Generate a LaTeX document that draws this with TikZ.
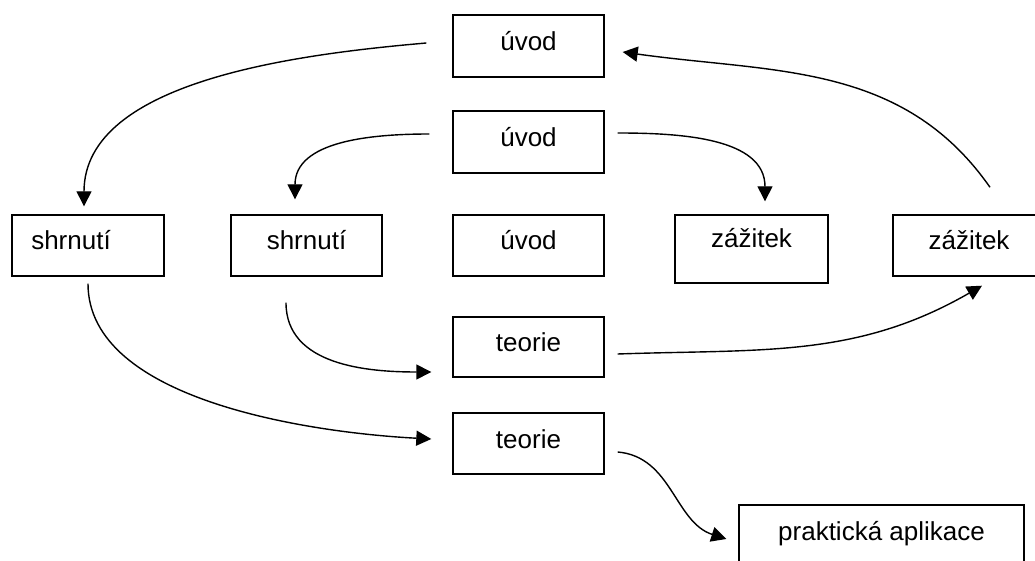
\documentclass[tikz,border=0pt]{standalone}
\usepackage{fontspec}
\setmainfont{Liberation Sans}
\usetikzlibrary{arrows.meta}

\begin{document}
\begin{tikzpicture}[x=1pt,y=1pt,font=\fontsize{26}{30}\selectfont,
  box/.style={draw,line width=1.4pt,minimum width=151pt,minimum height=61pt,text height=19pt,text depth=10pt,inner sep=0pt},
  ar/.style={-{Triangle[length=15pt,width=15pt]},line width=1.4pt}]
  \useasboundingbox (0,0) rectangle (1035,560);
  \clip (0,0) rectangle (1035,560);
  % boxes
  \node[box,minimum height=62pt](uv1) at (528.5,514){úvod};
  \node[box,minimum height=62pt](uv2) at (528.5,418){úvod};
  \node[box,minimum width=152pt](sh1) at (88,314.5){shrnutí\hspace*{34pt}};
  \node[box](sh2) at (306.5,314.5){shrnutí};
  \node[box](uv3) at (528.5,314.5){úvod};
  \node[box,minimum width=153pt,minimum height=68pt,text depth=21pt](za1) at (751.5,311){zážitek};
  \node[box,minimum width=152pt](za2) at (969,314.5){zážitek};
  \node[box,minimum height=60pt](te1) at (528.5,213){teorie};
  \node[box](te2) at (528.5,116.5){teorie};
  \node[box,minimum width=285pt](pa) at (881.5,24.5){praktická aplikace};
  % arrows
  \draw[ar]([xshift=-26pt,yshift=3pt]uv1.west) to[out=185,in=90,looseness=.85] ([xshift=-4pt,yshift=8pt]sh1.north);
  \draw[ar]([xshift=-23pt,yshift=8pt]uv2.west) to[out=180,in=90] ([xshift=-11.5pt,yshift=15pt]sh2.north);
  \draw[ar]([xshift=13pt,yshift=9pt]uv2.east) to[out=0,in=90] ([xshift=13.5pt,yshift=13pt]za1.north);
  \draw[ar]([xshift=21pt,yshift=27pt]za2.north) to[out=125,in=-8] ([xshift=18pt,yshift=-6pt]uv1.east);
  \draw[ar]([yshift=-7pt]sh1.south) to[out=270,in=177,looseness=.8] ([xshift=-21pt,yshift=4.5pt]te2.west);
  \draw[ar]([xshift=-20.5pt,yshift=-26pt]sh2.south) to[out=270,in=180] ([xshift=-21pt,yshift=-25pt]te1.west);
  \draw[ar]([xshift=13pt,yshift=-7pt]te1.east) to[out=2,in=210] ([xshift=13pt,yshift=-9pt]za2.south);
  \draw[ar]([xshift=13pt,yshift=-8.5pt]te2.east) to[out=-5,in=162] ([xshift=-12pt,yshift=-3.5pt]pa.west);
\end{tikzpicture}
\end{document}
